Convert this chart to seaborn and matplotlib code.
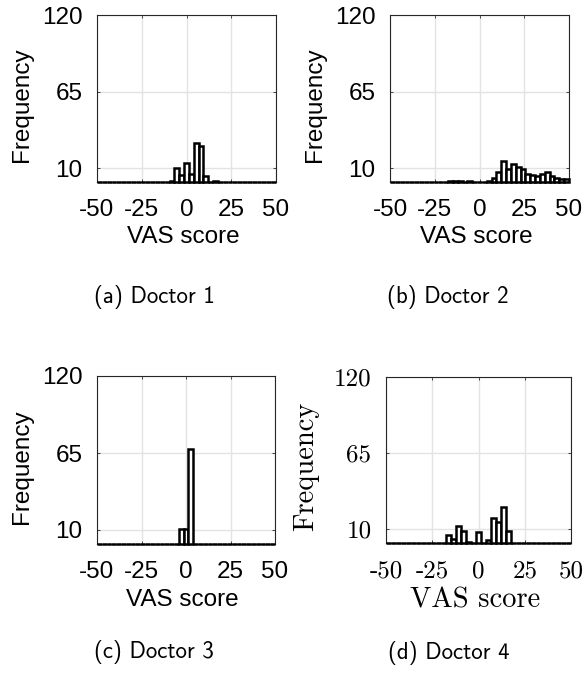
import numpy as np
import pandas as pd
import matplotlib
matplotlib.use("Agg")
import matplotlib.pyplot as plt
import seaborn as sns

# VAS score histogram: 37 equal-width bins over [-50, 50]
bin_edges = list(np.linspace(-50, 50, 38))
bin_centers = [(a + b) / 2 for a, b in zip(bin_edges[:-1], bin_edges[1:])]

doctor1_counts = [0] * 15 + [1, 10, 5, 14, 6, 28, 26, 4, 0, 1] + [0] * 12
doctor2_counts = ([0] * 12 + [1, 1, 1, 0, 1, 0, 0, 0, 1, 3, 7, 15, 9, 13, 11, 9,
                              6, 5, 4, 6, 7, 4, 3, 2, 2])
doctor3_counts = [0] * 17 + [11, 11, 68] + [0] * 17
doctor4_counts = [0] * 12 + [6, 3, 12, 9, 1, 0, 8, 0, 2, 18, 15, 26, 9] + [0] * 12

captions = ["(a) Doctor 1", "(b) Doctor 2", "(c) Doctor 3", "(d) Doctor 4"]
x_ticks = [-50, -25, 0, 25, 50]
x_tick_labels = ["-50", "-25", "0", "25", "50"]
y_ticks = [10, 65, 120]
y_tick_labels = ["10", "65", "120"]
x_label = "VAS score"
y_label = "Frequency"

sns.set_theme(style="white")
plt.rcParams["font.family"] = ["Liberation Sans", "DejaVu Sans"]

W, H = 586, 676
fig = plt.figure(figsize=(W / 100, H / 100), dpi=100)

# axes boxes in pixels: left, right, top, bottom
boxes = [(97, 276, 15, 182), (390, 569, 15, 182),
         (97, 275, 376, 544), (386, 571, 377, 543)]
caption_pos = [(154, 297), (448, 297), (154, 652), (449, 653)]
all_counts = [doctor1_counts, doctor2_counts, doctor3_counts, doctor4_counts]

for i, (counts, (l, r, t, b)) in enumerate(zip(all_counts, boxes)):
    ax = fig.add_axes([l / W, 1 - b / H, (r - l) / W, (b - t) / H])
    df = pd.DataFrame({"score": bin_centers, "count": counts})
    sns.histplot(data=df, x="score", weights="count", bins=bin_edges, ax=ax,
                 color="white", edgecolor="black", linewidth=1.8, alpha=1,
                 zorder=3, clip_on=False)
    ax.set_xlim(-50, 50)
    ax.set_ylim(0, 120)
    ax.set_xticks(x_ticks)
    ax.set_yticks(y_ticks)
    serif = i == 3
    fam = "cmr10" if serif else "Liberation Sans"
    tick_size = 18 if serif else 17.5
    ax.set_xticklabels(x_tick_labels, fontsize=tick_size, family=fam)
    ax.set_yticklabels(y_tick_labels, fontsize=tick_size, family=fam)
    ax.grid(True, color="#e3e3e3", linewidth=1.0, zorder=0)
    ax.set_axisbelow(True)
    for s in ax.spines.values():
        s.set_color("#262626")
        s.set_linewidth(0.8)
    ax.tick_params(direction="in", length=2.5, width=0.6, color="#262626",
                   top=True, right=True, bottom=True, left=True,
                   labelcolor="black")
    ax.tick_params(axis="y", pad=10.5)
    ax.tick_params(axis="x", pad=12.5)
    label_size = 20.5 if serif else 17.5
    ax.set_xlabel(x_label, fontsize=label_size, family=fam, color="black")
    ax.set_ylabel(y_label, fontsize=label_size, family=fam, color="black")
    ax.xaxis.set_label_coords(0.48, -0.265)
    ax.yaxis.set_label_coords(-0.36, 0.46)
    cx, cy = caption_pos[i]
    fig.text(cx / W, 1 - cy / H, captions[i], family="cmss10", fontsize=16.5,
             ha="center", va="center", color="black")

fig.savefig("out.png", dpi=100)
